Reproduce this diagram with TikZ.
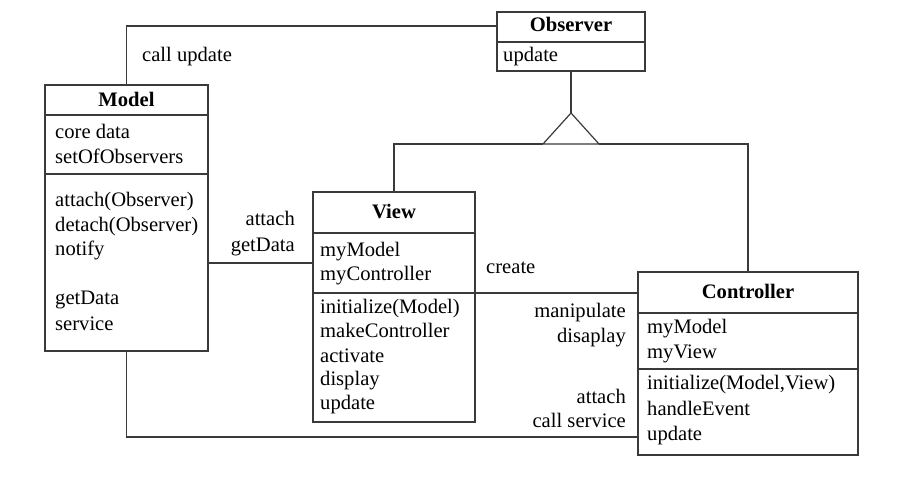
\documentclass[tikz,border=0pt]{standalone}
\usepackage{fontspec}
\setmainfont{Liberation Serif}
\definecolor{linec}{HTML}{3A3A3A}
\tikzset{
  umlbox/.style={draw=linec, line width=1.2pt, fill=white, anchor=north west, inner sep=0pt, outer sep=0pt},
  conn/.style={draw=linec, line width=1.2pt},
  txt/.style={anchor=base west, inner sep=0pt, font=\fontsize{20.6}{24}\selectfont},
  rtxt/.style={anchor=base east, inner sep=0pt, font=\fontsize{20.6}{24}\selectfont},
  ttl/.style={anchor=base, inner sep=0pt, font=\fontsize{20.6}{24}\selectfont\bfseries},
}
\begin{document}
\begin{tikzpicture}[x=1pt,y=1pt]
\useasboundingbox (0,0) rectangle (910,-503);

% ---- boxes ----
\node[umlbox, minimum width=163pt, minimum height=266pt] (model) at (45,-85) {};
\node[umlbox, minimum width=148pt, minimum height=59pt] (observer) at (497,-12) {};
\node[umlbox, minimum width=162pt, minimum height=230pt] (view) at (313,-192) {};
\node[umlbox, minimum width=220pt, minimum height=183pt] (controller) at (638,-272) {};

% ---- dividers ----
\draw[conn] ([yshift=-30pt]model.north west) -- ([yshift=-30pt]model.north east);
\draw[conn] ([yshift=-89pt]model.north west) -- ([yshift=-89pt]model.north east);
\draw[conn] ([yshift=-30pt]observer.north west) -- ([yshift=-30pt]observer.north east);
\draw[conn] ([yshift=-41pt]view.north west) -- ([yshift=-41pt]view.north east);
\draw[conn] ([yshift=-101pt]view.north west) -- ([yshift=-101pt]view.north east);
\draw[conn] ([yshift=-41pt]controller.north west) -- ([yshift=-41pt]controller.north east);
\draw[conn] ([yshift=-97pt]controller.north west) -- ([yshift=-97pt]controller.north east);

% ---- Model text ----
\node[ttl] (mT) at (126.5,-106) {Model};
\node[txt] (m1) at (55,-138) {core data};
\node[txt] (m2) at (55,-163) {setOfObservers};
\node[txt] (m3) at (55,-206) {attach(Observer)};
\node[txt] (m4) at (55,-231) {detach(Observer)};
\node[txt] (m5) at (55,-255) {notify};
\node[txt] (m6) at (55,-304) {getData};
\node[txt] (m7) at (55,-330) {service};

% ---- Observer text ----
\node[ttl] (oT) at (571,-32) {Observer};
\node[txt] (o1) at (503,-62) {update};

% ---- View text ----
\node[ttl] (vT) at (394,-218) {View};
\node[txt] (v1) at (320,-256) {myModel};
\node[txt] (v2) at (320,-280) {myController};
\node[txt] (v3) at (320,-313) {initialize(Model)};
\node[txt] (v4) at (320,-337) {makeController};
\node[txt] (v5) at (320,-362) {activate};
\node[txt] (v6) at (320,-385) {display};
\node[txt] (v7) at (320,-409) {update};

% ---- Controller text ----
\node[ttl] (cT) at (748,-298) {Controller};
\node[txt] (c1) at (647,-333) {myModel};
\node[txt] (c2) at (647,-358) {myView};
\node[txt] (c3) at (647,-389) {initialize(Model,View)};
\node[txt] (c4) at (647,-415) {handleEvent};
\node[txt] (c5) at (647,-440) {update};

% ---- connectors ----
\coordinate (cuy) at (0,-26);
\draw[conn] (model.north) |- (observer.west |- cuy);
\node[txt] (lcu) at (142,-62) {call update};

\coordinate (apex) at (571,-113);
\coordinate (tl) at (543,-144);
\coordinate (tr) at (599,-144);
\draw[conn] (observer.south) -- (apex);
\draw[conn] (apex) -- (tl) -- (tr) -- cycle;
\draw[conn] (view.north) |- (tl);
\draw[conn] (tr) -| (controller.north);

\coordinate (mvy) at (0,-263);
\draw[conn] (model.east |- mvy) -- (view.west |- mvy);
\node[rtxt] (l1) at (295,-225) {attach};
\node[rtxt] (l2) at (295,-251) {getData};

\coordinate (vcy) at (0,-293);
\draw[conn] (view.east |- vcy) -- (controller.west |- vcy);
\node[txt] (l3) at (486,-273) {create};
\node[rtxt] (l4) at (626,-317) {manipulate};
\node[rtxt] (l5) at (626,-342) {disaplay};

\coordinate (bty) at (0,-437);
\draw[conn] (model.south) |- (controller.west |- bty);
\node[rtxt] (l6) at (626,-403) {attach};
\node[rtxt] (l7) at (626,-427) {call service};
\end{tikzpicture}
\end{document}
